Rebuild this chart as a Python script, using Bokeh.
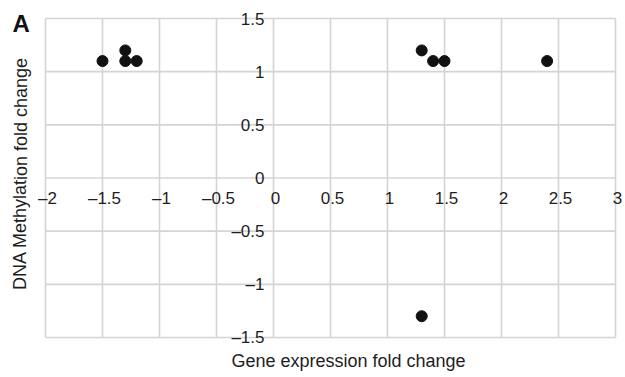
from bokeh.plotting import figure
from bokeh.models import ColumnDataSource
from bokeh.embed import file_html
from bokeh.resources import INLINE
from bokeh.core.properties import value

# data
gene_expr = [-1.5, -1.3, -1.3, -1.2, 1.3, 1.4, 1.5, 2.4, 1.3]
dna_meth = [1.1, 1.2, 1.1, 1.1, 1.2, 1.1, 1.1, 1.1, -1.3]
x_ticks = [-2, -1.5, -1, -0.5, 0, 0.5, 1, 1.5, 2, 2.5, 3]
y_ticks = [-1.5, -1, -0.5, 0, 0.5, 1, 1.5]
x_title = "Gene expression fold change"
y_title = "DNA Methylation fold change"
panel_tag = "A"

def fmt(v):
    return ("%g" % v).replace("-", "\u2013")

FONT = "Liberation Sans"
GRID = "#d4d4d4"
TXT = "#1e1e1e"

W, H = 625, 374
# plot-area placement (pixels) within the canvas
L, R, T, B = 45, 615, 18, 337
xmin, xmax = x_ticks[0], x_ticks[-1]
ymin, ymax = y_ticks[0], y_ticks[-1]
sx = (R - L) / (xmax - xmin)
sy = (B - T) / (ymax - ymin)
x_range = (xmin - L / sx, xmax + (W - R) / sx)
y_range = (ymin - (H - B) / sy, ymax + T / sy)

def px_x(px):
    return xmin + (px - L) / sx

def px_y(py):
    return ymax - (py - T) / sy

p = figure(width=W, height=H, x_range=x_range, y_range=y_range,
           output_backend="svg", toolbar_location=None,
           x_axis_location=None, y_axis_location=None,
           min_border=0, min_border_left=0, min_border_right=0,
           min_border_top=0, min_border_bottom=0)
p.grid.visible = False
p.outline_line_color = None
p.background_fill_color = "white"
p.border_fill_color = "white"

# grid lines (including the zero axes and the frame)
p.segment(x0=x_ticks, y0=[ymin] * len(x_ticks), x1=x_ticks, y1=[ymax] * len(x_ticks),
          line_color=GRID, line_width=1.6)
p.segment(x0=[xmin] * len(y_ticks), y0=y_ticks, x1=[xmax] * len(y_ticks), y1=y_ticks,
          line_color=GRID, line_width=1.6)

src = ColumnDataSource(dict(x=gene_expr, y=dna_meth))
p.scatter("x", "y", source=src, size=11, fill_color="#111111", line_color="#111111")

xs = ColumnDataSource(dict(x=x_ticks, y=[0] * len(x_ticks), t=[fmt(v) for v in x_ticks]))
p.text("x", "y", text="t", source=xs, text_align="center", text_baseline="middle",
       y_offset=20, x_offset=2, text_font=value(FONT), text_font_size="17px", text_color=TXT)
ys = ColumnDataSource(dict(x=[0] * len(y_ticks), y=y_ticks, t=[fmt(v) for v in y_ticks]))
p.text("x", "y", text="t", source=ys, text_align="right", text_baseline="middle",
       x_offset=-9, text_font=value(FONT), text_font_size="17px", text_color=TXT)

p.text(x=[px_x(348)], y=[px_y(360)], text=[x_title], text_align="center",
       text_baseline="middle", text_font=value(FONT), text_font_size="18px", text_color=TXT)
p.text(x=[px_x(20)], y=[px_y(173)], text=[y_title], text_align="center",
       text_baseline="middle", angle=1.5707963, text_font=value(FONT),
       text_font_size="18px", text_color=TXT)
p.text(x=[px_x(12)], y=[px_y(23)], text=[panel_tag], text_align="left",
       text_baseline="middle", text_font=value(FONT), text_font_size="24px",
       text_font_style="bold", text_color="#111111")

open("out.html", "w").write(file_html(p, INLINE))
